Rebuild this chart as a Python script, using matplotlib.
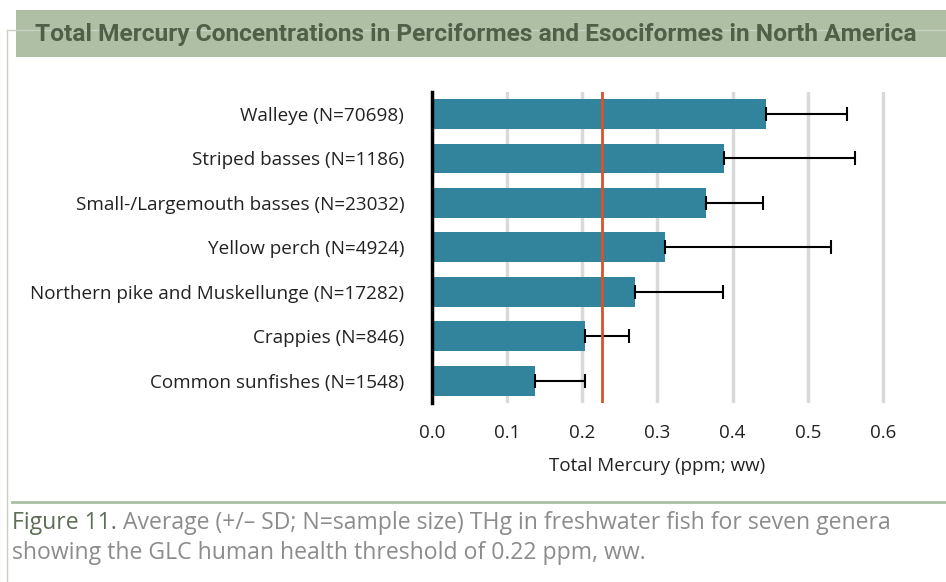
import matplotlib
matplotlib.use("Agg")
import matplotlib.pyplot as plt
from matplotlib.patches import Rectangle
from matplotlib.lines import Line2D

# chart data
species = ["Walleye (N=70698)", "Striped basses (N=1186)", "Small-/Largemouth basses (N=23032)",
           "Yellow perch (N=4924)", "Northern pike and Muskellunge (N=17282)", "Crappies (N=846)",
           "Common sunfishes (N=1548)"]
mean_thg = [0.445, 0.389, 0.365, 0.310, 0.270, 0.203, 0.137]
sd_thg = [0.107, 0.174, 0.076, 0.221, 0.117, 0.059, 0.067]
threshold = 0.226
x_ticks = [0.0, 0.1, 0.2, 0.3, 0.4, 0.5, 0.6]

title = "Total Mercury Concentrations in Perciformes and Esociformes in North America"
caption_head = "Figure 11."
caption_rest = " Average (+/\u2013 SD; N=sample size) THg in freshwater fish for seven genera"
caption_line2 = "showing the GLC human health threshold of 0.22 ppm, ww."

W, H = 946, 582
fig = plt.figure(figsize=(W / 100, H / 100), dpi=100)
body_font = ["Open Sans", "DejaVu Sans"]

def fx(px):
    return px / W

def fy(py):
    return 1 - py / H

# thin frame around the panel
fig.add_artist(Line2D([fx(7), fx(7)], [fy(30), fy(582)], color="#c8d1c2", lw=1))
fig.add_artist(Line2D([fx(7), fx(946)], [fy(30), fy(30)], color="#c8d1c2", lw=1))

# title band
fig.add_artist(Rectangle((fx(16), fy(57)), fx(946) - fx(16), fy(10) - fy(57),
                         facecolor="#aebfa5", edgecolor="none"))
ttl = fig.text(fx(35), fy(35), title, fontsize=16, fontweight="bold", color="#4f5f48",
               family=["Roboto", "DejaVu Sans"], va="center", ha="left")
fig.canvas.draw()
tw = ttl.get_window_extent().width
ttl.set_fontsize(16 * 884 / tw)

ax = fig.add_axes([fx(432), fy(403), fx(898) - fx(432), fy(91.7) - fy(403)])
y = list(range(len(species)))
ax.barh(y, mean_thg, height=0.67, color="#31849b", zorder=3)
ax.errorbar(mean_thg, y, xerr=[[0] * len(sd_thg), sd_thg], fmt="none", ecolor="black",
            elinewidth=1.5, capsize=5, capthick=1.5, zorder=4)
ax.axvline(threshold, color="#d9532a", lw=2, zorder=5)
for t in x_ticks[1:]:
    ax.axvline(t, color="#d9d9d9", lw=2.5, zorder=1)

ax.set_ylim(len(species) - 0.5, -0.5)
ax.set_xlim(0, 0.62)
ax.set_yticks(y)
ax.set_yticklabels(species, fontsize=13.6, family=body_font, color="#222222")
ax.set_xticks(x_ticks)
ax.set_xticklabels([f"{t:.1f}" for t in x_ticks], fontsize=13.5, family=body_font, color="#222222")
ax.tick_params(axis="y", length=0, pad=20)
ax.tick_params(axis="x", length=0, pad=15)
for s in ["top", "right", "bottom"]:
    ax.spines[s].set_visible(False)
ax.spines["left"].set_linewidth(2.5)
ax.spines["left"].set_zorder(6)
ax.set_xlabel("Total Mercury (ppm; ww)", fontsize=13.5, family=body_font, color="#222222")
ax.xaxis.set_label_coords((fx(657) - fx(432)) / (fx(898) - fx(432)), -0.175)

# caption separator and caption
fig.add_artist(Line2D([fx(12), fx(946)], [fy(502), fy(502)], color="#aebfa5", lw=2))
head = fig.text(fx(12), fy(523), caption_head, fontsize=16.6, color="#5e6e57",
                family=body_font, va="center", ha="left")
fig.canvas.draw()
bb = head.get_window_extent()
fig.text(bb.x1 / W, fy(523), caption_rest, fontsize=16.6, color="#8c8c8c",
         family=body_font, va="center", ha="left")
fig.text(fx(12), fy(553), caption_line2, fontsize=16.6, color="#8c8c8c",
         family=body_font, va="center", ha="left")

fig.savefig("out.png", dpi=100)
